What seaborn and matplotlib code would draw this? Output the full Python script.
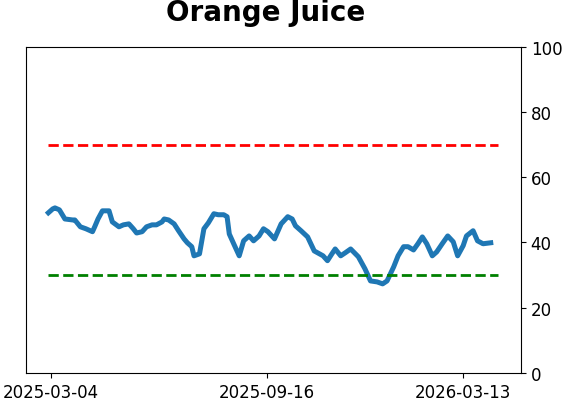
import matplotlib
matplotlib.use("Agg")
import matplotlib.pyplot as plt
import seaborn as sns
import pandas as pd

title = "Orange Juice"
start_date = "2025-03-02"
day_offsets = [0, 4, 6, 10, 15, 22, 24, 29, 34, 40, 42, 45, 49, 55, 58, 64, 68, 73, 77, 80,
               85, 89, 94, 98, 103, 105, 109, 114, 118, 123, 126, 130, 132, 137, 141, 145, 150,
               154, 159, 162, 164, 168, 173, 177, 182, 186, 191, 195, 199, 205, 211, 217, 221,
               224, 229, 235, 241, 249, 253, 257, 260, 265, 269, 274, 281, 287, 292, 298, 303,
               307, 313, 317, 322, 326, 331, 335, 339, 343, 348, 352, 357, 362, 367, 371, 376,
               379, 385, 389, 394, 401]
values = [49.1, 50.3, 50.6, 50.0, 47.2, 46.9, 46.9, 44.8, 44.2, 43.3, 44.8, 47.2, 49.7, 49.7,
          46.3, 44.8, 45.4, 45.7, 44.2, 42.9, 43.3, 44.8, 45.4, 45.4, 46.3, 47.2, 46.9, 45.7,
          43.6, 41.1, 39.9, 38.7, 35.9, 36.5, 44.2, 46.0, 48.8, 48.5, 48.5, 47.9, 42.6, 39.6,
          35.9, 40.5, 42.0, 40.5, 42.0, 44.2, 43.3, 41.1, 45.7, 47.9, 47.2, 45.1, 43.6, 41.7,
          37.4, 35.9, 34.4, 36.5, 38.0, 35.9, 36.8, 38.0, 35.6, 31.9, 28.2, 27.9, 27.3, 28.2,
          32.5, 35.9, 38.7, 38.7, 37.7, 39.6, 41.7, 39.6, 35.9, 37.1, 39.6, 42.0, 40.2, 35.9,
          39.0, 42.0, 43.6, 40.5, 39.6, 39.9]
upper_level = 70
lower_level = 30
ref_end_offset = 408
tick_labels = ["2025-03-04", "2025-09-16", "2026-03-13"]
y_ticks = [0, 20, 40, 60, 80, 100]

start = pd.Timestamp(start_date)
df = pd.DataFrame({"date": start + pd.to_timedelta(day_offsets, unit="D"), "value": values})
ref_dates = [start, start + pd.Timedelta(days=ref_end_offset)]

fig = plt.figure(figsize=(5.62, 4.02), dpi=100)
ax = fig.add_axes([0.046, 0.070, 0.881, 0.811])

sns.lineplot(data=df, x="date", y="value", ax=ax, color="#1f77b4", linewidth=3.6)
ax.plot(ref_dates, [upper_level, upper_level], color="red", linestyle="--", linewidth=2)
ax.plot(ref_dates, [lower_level, lower_level], color="green", linestyle="--", linewidth=2)

ax.set_ylim(0, 100)
ax.set_yticks(y_ticks)
ax.yaxis.tick_right()
ax.set_xticks([pd.Timestamp(t) for t in tick_labels])
ax.set_xticklabels(tick_labels)
ax.tick_params(labelsize=12)
ax.set_xlabel("")
ax.set_ylabel("")
ax.set_title(title, fontsize=20, fontweight="bold", pad=19, x=0.484)

fig.savefig("out.png", dpi=100)
